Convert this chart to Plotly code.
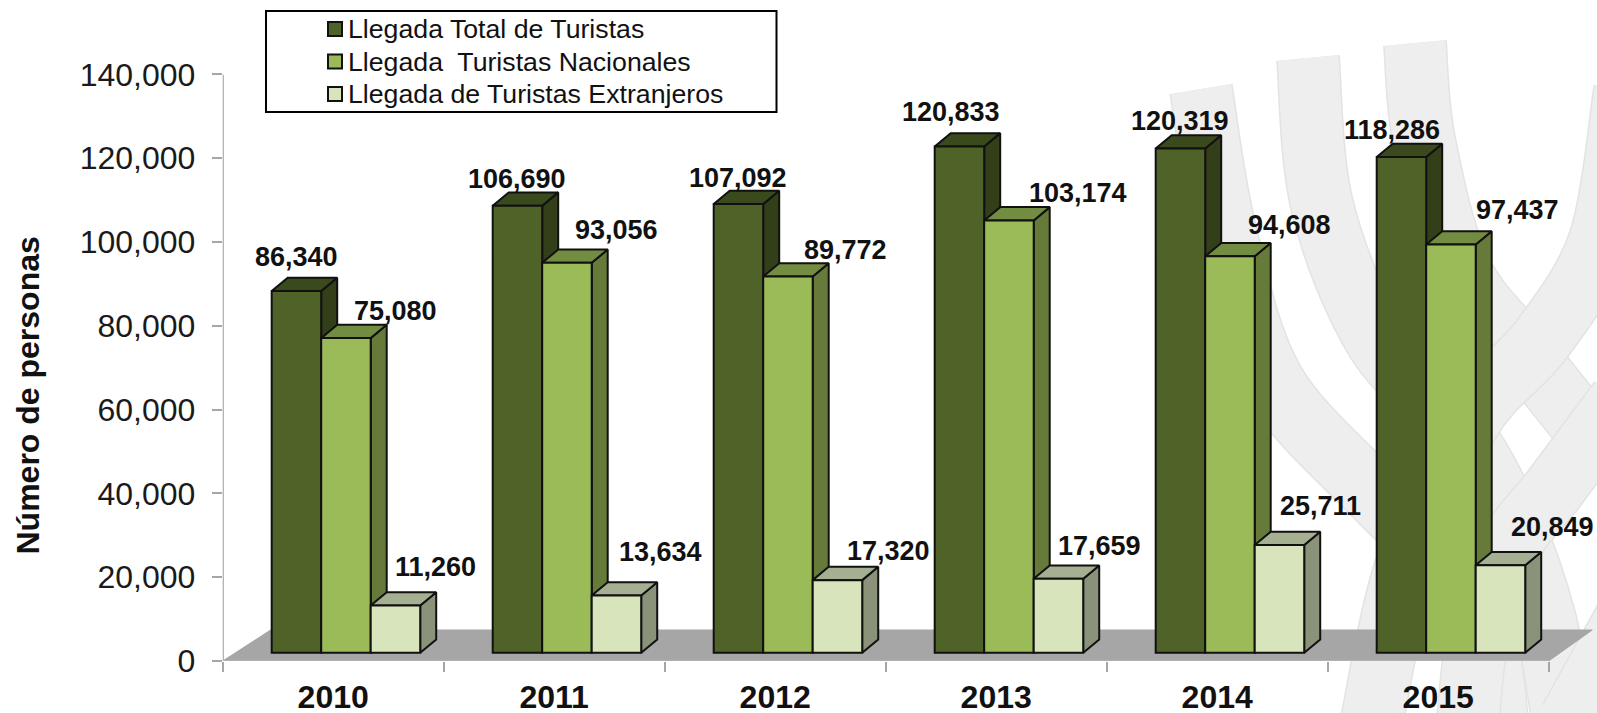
import plotly.graph_objects as go

WIDTH, HEIGHT = 1597, 713
FONT = "Liberation Sans"

years = ["2010", "2011", "2012", "2013", "2014", "2015"]
total_tourists = [86340, 106690, 107092, 120833, 120319, 118286]
national_tourists = [75080, 93056, 89772, 103174, 94608, 97437]
foreign_tourists = [11260, 13634, 17320, 17659, 25711, 20849]
series_names = [
    "Llegada Total de Turistas",
    "Llegada  Turistas Nacionales",
    "Llegada de Turistas Extranjeros",
]
y_ticks = [0, 20000, 40000, 60000, 80000, 100000, 120000, 140000]

# front, side, top colours per series
front_colors = ["#4F6228", "#9BBB59", "#D8E4BC"]
side_colors = ["#333F18", "#667A39", "#8A937A"]
top_colors = ["#3A4A1C", "#728C42", "#A5AF92"]

# fake 3D geometry, in axis units (one category = 1, y in persons)
BAR_START = 0.2217
BAR_W = 0.224
DEPTH_X = 0.0724
DEPTH_Y = 3170
FRONT_BASE = 1980
FLOOR_DX = 0.197
FLOOR_DY = 7400
CATEGORY_PX = 221
PLOT_LEFT = 222.7

# hand placed data labels in the original: pixels right of / above each bar top
label_dx = [
    [0, 0, 0, -8, 0, -9],
    [50, 50, 58, 69, 60, 67],
    [40, 44, 51, 41, 41, 52],
]
label_up = [
    [34, 27, 26, 34, 28, 27],
    [27, 33, 27, 27, 31, 34],
    [39, 44, 29, 33, 39, 38],
]

# centre lines of the pale watermark ribbons, in page pixels
ribbons = [
    [(1201, 89), (1225, 230), (1273, 381), (1377, 497), (1445, 565), (1485, 640), (1497, 720)],
    [(1308, 58), (1322, 205), (1377, 341), (1460, 430), (1510, 520), (1545, 620), (1563, 720)],
    [(1415, 43), (1424, 140), (1460, 270), (1530, 360), (1610, 460)],
    [(1625, 90), (1600, 240), (1542, 339), (1470, 420), (1405, 570), (1372, 720)],
    [(1620, 400), (1553, 490), (1510, 545), (1480, 620), (1468, 720)],
    [(1625, 620), (1570, 720)],
]


def ribbon_path(points):
    """Smooth SVG path through the points, in paper coordinates."""
    pts = [(x / WIDTH, 1 - y / HEIGHT) for x, y in points]
    path = f"M{pts[0][0]},{pts[0][1]}"
    for i in range(len(pts) - 1):
        p0 = pts[max(i - 1, 0)]
        p1, p2 = pts[i], pts[i + 1]
        p3 = pts[min(i + 2, len(pts) - 1)]
        c1 = (p1[0] + (p2[0] - p0[0]) / 6, p1[1] + (p2[1] - p0[1]) / 6)
        c2 = (p2[0] - (p3[0] - p1[0]) / 6, p2[1] - (p3[1] - p1[1]) / 6)
        path += f"C{c1[0]},{c1[1]} {c2[0]},{c2[1]} {p2[0]},{p2[1]}"
    return path


fig = go.Figure()

# floor of the 3D chart
n = len(years)
fig.add_trace(go.Scatter(
    x=[0, n, n + FLOOR_DX, FLOOR_DX + 0.02, 0],
    y=[0, 0, FLOOR_DY, FLOOR_DY, 0],
    mode="lines", fill="toself", fillcolor="#A6A6A6",
    line=dict(color="#A6A6A6", width=1),
    cliponaxis=False, hoverinfo="skip", showlegend=False, zorder=0,
))
# axis lines, the x range runs on past the last year so the floor is not clipped
fig.add_trace(go.Scatter(
    x=[0, 0, n], y=[y_ticks[-1], 0, 0], mode="lines",
    line=dict(color="#B0B0B0", width=2.5),
    cliponaxis=False, hoverinfo="skip", showlegend=False, zorder=0,
))

annotations = []
all_series = [total_tourists, national_tourists, foreign_tourists]
for j, values in enumerate(all_series):
    lefts = [i + BAR_START + j * BAR_W for i in range(n)]
    centers = [x + BAR_W / 2 for x in lefts]

    side_x, side_y, top_x, top_y = [], [], [], []
    for x, v in zip(lefts, values):
        right = x + BAR_W
        top = FRONT_BASE + v
        side_x += [right, right + DEPTH_X, right + DEPTH_X, right, right, None]
        side_y += [FRONT_BASE, FRONT_BASE + DEPTH_Y, top + DEPTH_Y, top, FRONT_BASE, None]
        top_x += [x, x + DEPTH_X, right + DEPTH_X, right, x, None]
        top_y += [top, top + DEPTH_Y, top + DEPTH_Y, top, top, None]

    for xs, ys, color in [(side_x, side_y, side_colors[j]), (top_x, top_y, top_colors[j])]:
        fig.add_trace(go.Scatter(
            x=xs, y=ys, mode="lines", fill="toself", fillcolor=color,
            line=dict(color="#111111", width=2),
            cliponaxis=False, hoverinfo="skip", showlegend=False, zorder=2 * j + 1,
        ))

    fig.add_trace(go.Bar(
        x=centers, y=values, base=FRONT_BASE, width=BAR_W, name=series_names[j],
        marker=dict(color=front_colors[j], line=dict(color="#111111", width=2)),
        showlegend=False, zorder=2 * j + 2,
    ))

    for i, v in enumerate(values):
        annotations.append(dict(
            x=centers[i], y=FRONT_BASE + v, xref="x", yref="y",
            xanchor="center", yanchor="middle",
            xshift=label_dx[j][i], yshift=label_up[j][i],
            text=f"<b>{v:,}</b>", showarrow=False,
            font=dict(family=FONT, size=27, color="#111111"),
        ))

# axis title
annotations.append(dict(
    x=27.5 / WIDTH, y=1 - 396 / HEIGHT, xref="paper", yref="paper",
    xanchor="center", yanchor="middle",
    text="<b>Número de personas</b>", textangle=-90, showarrow=False,
    font=dict(family=FONT, size=32, color="#111111"),
))

shapes = []
for points in ribbons:
    for color, width in [("#E3E3E3", 64), ("#EEEEEE", 61)]:
        shapes.append(dict(
            type="path", path=ribbon_path(points), xref="paper", yref="paper",
            line=dict(color=color, width=width), layer="below",
        ))

# legend box, drawn by hand because the original has tight swatches
shapes.append(dict(
    type="rect", xref="paper", yref="paper",
    x0=266 / WIDTH, x1=776.5 / WIDTH, y0=1 - 112 / HEIGHT, y1=1 - 11 / HEIGHT,
    line=dict(color="#000000", width=2), fillcolor="white", layer="above",
))
for j, name in enumerate(series_names):
    y_mid = 29 + j * 32.5
    shapes.append(dict(
        type="rect", xref="paper", yref="paper",
        x0=328 / WIDTH, x1=342 / WIDTH,
        y0=1 - (y_mid + 7) / HEIGHT, y1=1 - (y_mid - 7) / HEIGHT,
        line=dict(color="#111111", width=2), fillcolor=front_colors[j], layer="above",
    ))
    annotations.append(dict(
        x=346 / WIDTH, y=1 - y_mid / HEIGHT, xref="paper", yref="paper",
        xanchor="left", yanchor="middle",
        text=name.replace("  ", "&nbsp; "), showarrow=False,
        font=dict(family=FONT, size=26.7, color="#111111"),
    ))

fig.update_layout(
    width=WIDTH, height=HEIGHT,
    margin=dict(l=0, r=0, t=0, b=0),
    paper_bgcolor="white", plot_bgcolor="rgba(0,0,0,0)",
    barmode="overlay", showlegend=False,
    xaxis=dict(
        domain=[PLOT_LEFT / WIDTH, 1], range=[0, (WIDTH - PLOT_LEFT) / CATEGORY_PX], automargin=False,
        tickmode="array", tickvals=[i + 0.5 for i in range(n)], ticktext=years,
        ticks="", ticklabelstandoff=14,
        tickfont=dict(family=FONT, size=32, color="#111111", weight="bold"),
        showline=False, showgrid=False, zeroline=False,
        minor=dict(tick0=0, dtick=1, ticks="outside", ticklen=10, tickwidth=2, tickcolor="#A6A6A6"),
    ),
    yaxis=dict(
        domain=[1 - 661 / HEIGHT, 1 - 74.4 / HEIGHT], range=[0, 140000], automargin=False,
        tickmode="array", tickvals=y_ticks, tickformat=",",
        ticks="outside", ticklen=10, tickwidth=2, tickcolor="#A6A6A6",
        ticklabelstandoff=10,
        tickfont=dict(family=FONT, size=32, color="#1A1A1A"),
        showline=False, showgrid=False, zeroline=False,
    ),
    annotations=annotations,
    shapes=shapes,
)

# the page's default body margin would push the figure 8px off
fig.write_html("out.html", config=dict(displayModeBar=False),
               post_script="document.body.style.margin='0';")
